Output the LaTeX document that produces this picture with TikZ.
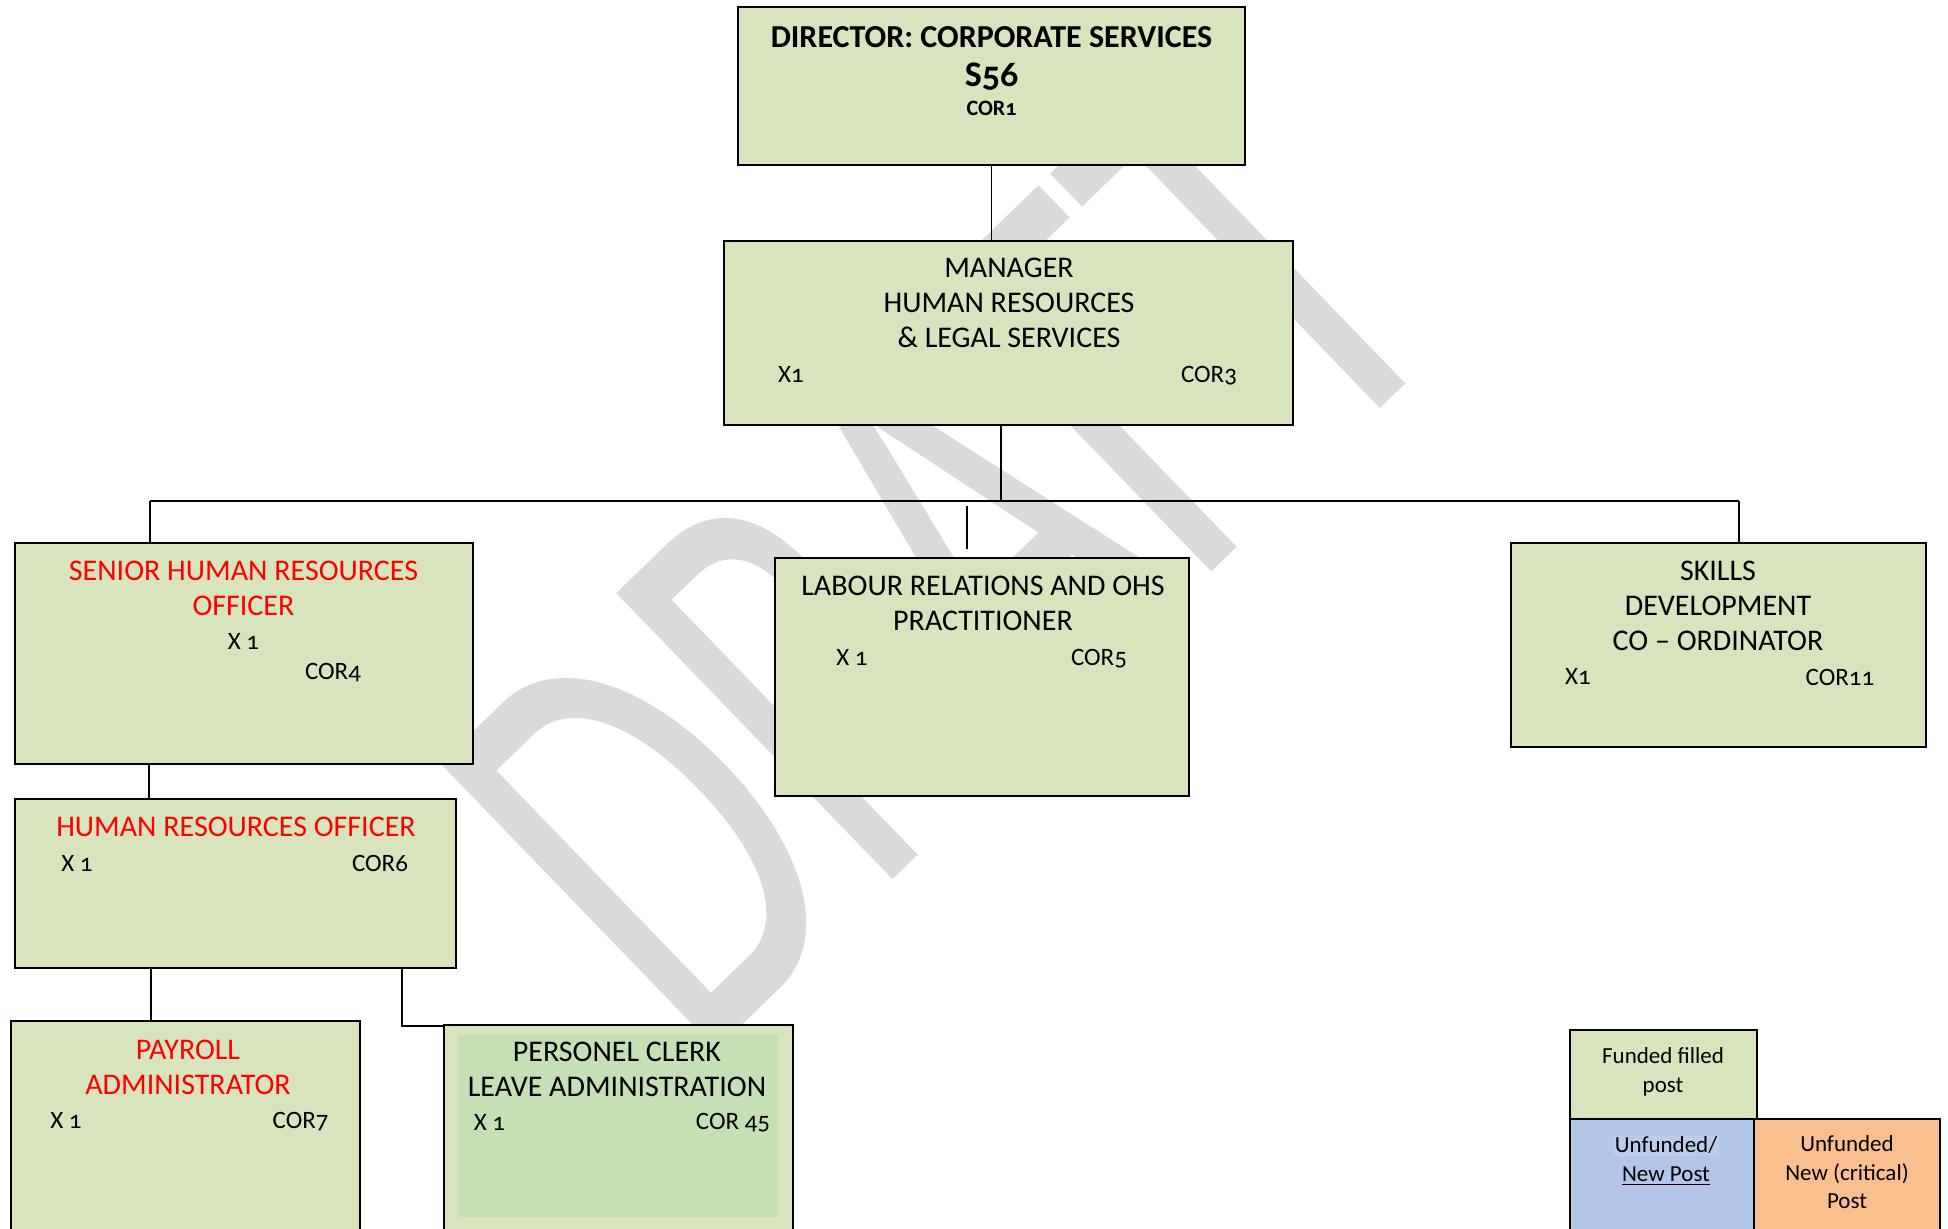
\documentclass[tikz,border=0pt]{standalone}
\usepackage{fontspec}
\setmainfont{Carlito}[Numbers=OldStyle]
\usepackage{xcolor}
\definecolor{post-green}{HTML}{D7E4BD}
\definecolor{clerk-green}{HTML}{C5E0B4}
\definecolor{new-blue}{HTML}{B4C6E7}
\definecolor{mark-blue}{HTML}{BACDE6}
\definecolor{crit-orange}{HTML}{FABF8F}
\definecolor{draft-grey}{HTML}{DADADA}
\usepackage{tikz}
\usetikzlibrary{positioning}
\tikzset{post/.style = {draw, line width=1pt, fill=post-green, inner sep=0pt}}
\tikzset{title/.style = {align=center, font=\fontsize{15}{17.5}\selectfont}}
\tikzset{code/.style = {font=\fontsize{12.5}{15}\selectfont}}
\tikzset{key/.style = {align=center, font=\fontsize{11.5}{14.25}\selectfont}}
\tikzset{link/.style = {line width=0.7pt}}
\tikzset{bus/.style = {line width=1.2pt}}

\begin{document}
\begin{tikzpicture}[x=0.5pt, y=-0.5pt]

\useasboundingbox (0,0) rectangle (1948,1228);
\fill[white] (0,0) rectangle (1948,1228);

% watermark behind everything
\node[text=draft-grey, font=\fontsize{310}{310}\selectfont,
  rotate=44, xscale=0.64] (draft) at (942,556) {DRAFT};

% posts
\node[post, minimum width=253.5pt, minimum height=79pt] (dir) at (991.5,86) {};
\node[post, minimum width=284.5pt, minimum height=92pt] (mgr) at (1008.5,333) {};
\node[post, minimum width=229pt, minimum height=110.5pt] (shro) at (244,653.5) {};
\node[post, minimum width=207pt, minimum height=119pt] (lro) at (982,677) {};
\node[post, minimum width=207.5pt, minimum height=102pt] (sdc) at (1718.5,645) {};
\node[post, minimum width=220.5pt, minimum height=84.5pt] (hro) at (235.5,883.5) {};
\node[post, minimum width=174.5pt, minimum height=109.5pt] (pay) at (185.5,1130.5) {};
\node[post, minimum width=174.5pt, minimum height=107.5pt] (pcl) at (618,1132.5) {};
\fill[clerk-green] (458,1035) rectangle (778,1217);

% key
\node[post, minimum width=93.5pt, minimum height=44.5pt] (key-f) at (1663.5,1074.5) {};
\node[post, fill=new-blue, minimum width=92pt, minimum height=60.5pt] (key-n) at (1662,1179.5) {};
\node[post, fill=crit-orange, minimum width=93pt, minimum height=60.5pt] (key-c) at (1847,1179.5) {};

% lines
\coordinate (bus-l) at (150,501);
\coordinate (bus-r) at (1739,501);
\coordinate (bus-m) at (1001,501);
\coordinate (lro-top) at (967,506);
\coordinate (hro-drop) at (149,0);
\coordinate (pay-drop) at (151,0);
\coordinate (pcl-drop) at (402,0);

\draw[link] (dir.south) -- (dir.south |- mgr.north);
\draw[link] (mgr.south -| bus-m) -- (bus-m);
\draw[bus]  (bus-l) -- (bus-r);
\draw[link] (bus-l) -- (bus-l |- shro.north);
\draw[link] (bus-r) -- (bus-r |- sdc.north);
\draw[link, shorten >=4pt] (lro-top) -- (lro-top |- lro.north);
\draw[link] (shro.south -| hro-drop) -- (hro.north -| hro-drop);
\draw[link] (hro.south -| pay-drop) -- (pay.north -| pay-drop);
\draw[link] (hro.south -| pcl-drop) |- ([yshift=-1pt]pcl.north west);

% texts
\node[font=\fontsize{16}{19}\selectfont\bfseries, anchor=base] (dir-t) at (991.5,47) {DIRECTOR: CORPORATE SERVICES};
\node[font=\fontsize{18}{19}\selectfont\bfseries, anchor=base] (dir-s) at (991.5,86) {S56};
\node[font=\fontsize{11}{13}\selectfont\bfseries, anchor=base] (dir-c) at (991.5,115) {COR1};

\node[title] (mgr-t) at (1009,303) {MANAGER\\HUMAN RESOURCES\\\& LEGAL SERVICES};
\node[code] (mgr-x) at (791,374) {X1};
\node[code] (mgr-c) at (1209,376) {COR3};

\node[title, text=red] (shro-t) at (243.5,588) {SENIOR HUMAN RESOURCES\\OFFICER};
\node[code] (shro-x) at (243.5,641) {X 1};
\node[code] (shro-c) at (333,673) {COR4};

\node[title] (lro-t) at (983,603.5) {LABOUR RELATIONS AND OHS\\PRACTITIONER};
\node[code] (lro-x) at (852,657) {X 1};
\node[code] (lro-c) at (1099,659) {COR5};

\node[title] (sdc-t) at (1718,606) {SKILLS\\DEVELOPMENT\\CO -- ORDINATOR};
\node[code] (sdc-x) at (1578,676) {X1};
\node[code] (sdc-c) at (1840,677) {COR11};

\node[title, text=red] (hro-t) at (236,827) {HUMAN RESOURCES OFFICER};
\node[code] (hro-x) at (77,863) {X 1};
\node[code] (hro-c) at (380,863) {COR6};

\node[title, text=red] (pay-t) at (188,1067) {PAYROLL\\ADMINISTRATOR};
\node[code] (pay-x) at (66,1120.5) {X 1};
\node[code] (pay-c) at (300.6,1122) {COR7};

\node[title] (pcl-t) at (617,1069.5) {PERSONEL CLERK\\LEAVE ADMINISTRATION};
\node[code] (pcl-x) at (489.5,1122) {X 1};
\node[code] (pcl-c) at (733,1123) {COR 45};

\node[key] (key-f-t) at (1663,1072) {Funded filled\\post};
\node[key] (key-n-t) at (1666,1160) {{\setlength\fboxsep{1pt}\colorbox{mark-blue}{Unfunded/}}\\\underline{New Post}};
\node[key] (key-c-t) at (1847,1172.5) {Unfunded\\New (critical)\\Post};

\end{tikzpicture}
\end{document}
